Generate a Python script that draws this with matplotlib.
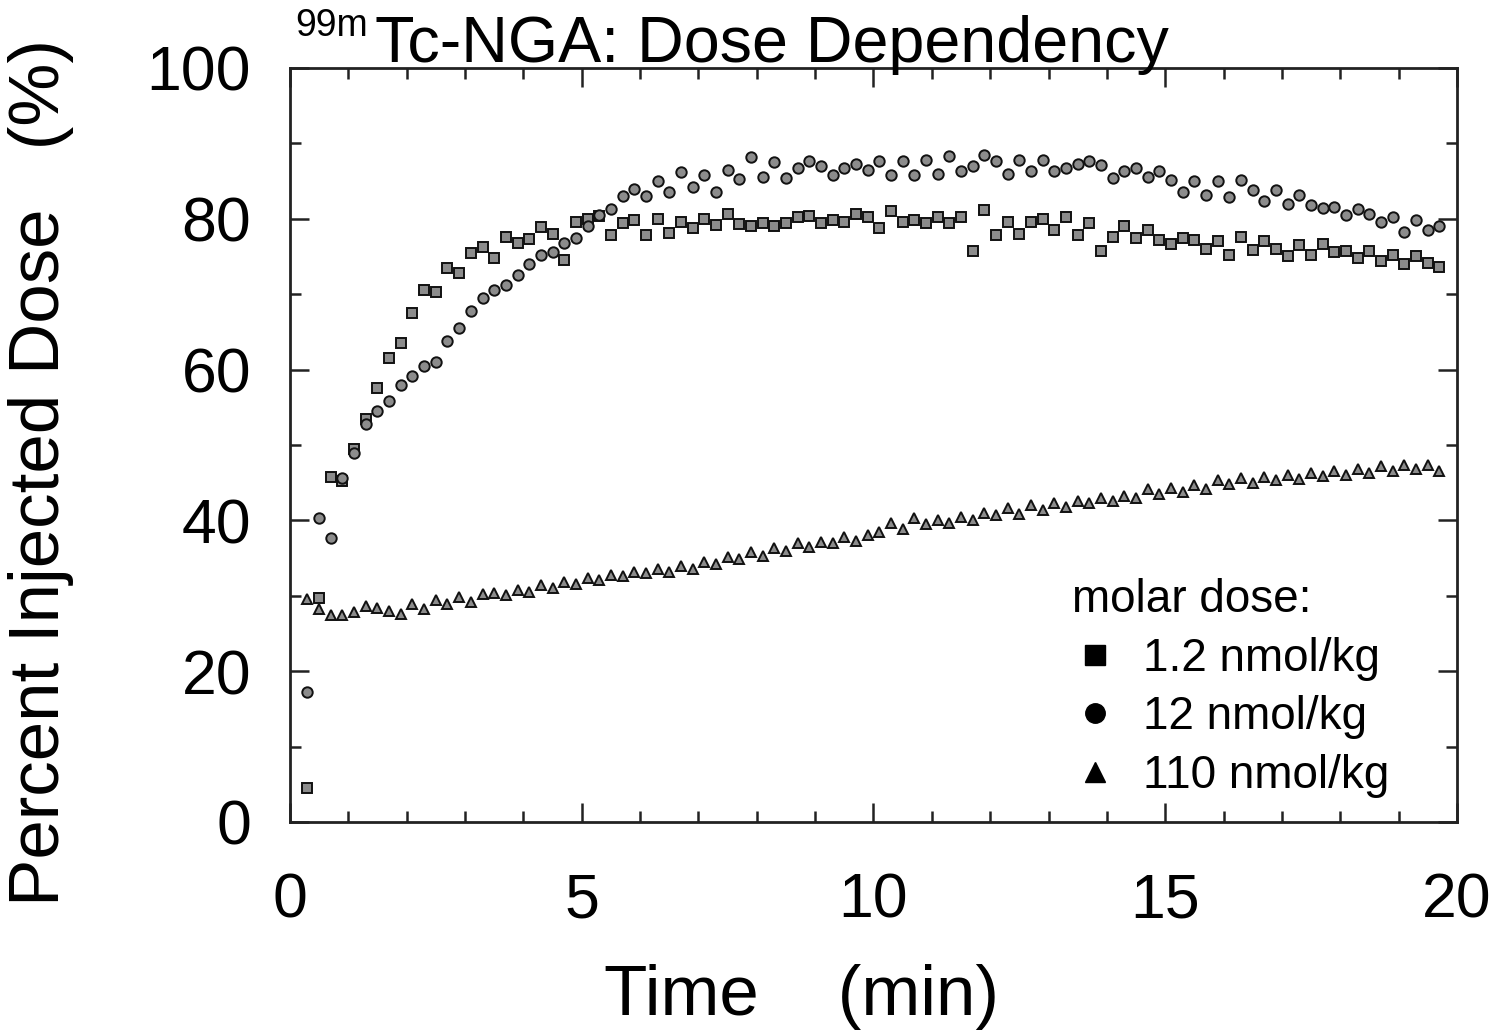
import numpy as np
import matplotlib
matplotlib.use("Agg")
from matplotlib import pyplot as plt
from matplotlib.lines import Line2D
from matplotlib.ticker import MultipleLocator

plt.rcParams['font.family'] = ['Liberation Sans', 'DejaVu Sans']

# sampling times (min)
time_min = [0.3, 0.5, 0.7, 0.9, 1.1, 1.3, 1.5, 1.7, 1.9, 2.1,
            2.3, 2.5, 2.7, 2.9, 3.1, 3.3, 3.5, 3.7, 3.9, 4.1,
            4.3, 4.5, 4.7, 4.9, 5.1, 5.3, 5.5, 5.7, 5.9, 6.1,
            6.3, 6.5, 6.7, 6.9, 7.1, 7.3, 7.5, 7.7, 7.9, 8.1,
            8.3, 8.5, 8.7, 8.9, 9.1, 9.3, 9.5, 9.7, 9.9, 10.1,
            10.3, 10.5, 10.7, 10.9, 11.1, 11.3, 11.5, 11.7, 11.9, 12.1,
            12.3, 12.5, 12.7, 12.9, 13.1, 13.3, 13.5, 13.7, 13.9, 14.1,
            14.3, 14.5, 14.7, 14.9, 15.1, 15.3, 15.5, 15.7, 15.9, 16.1,
            16.3, 16.5, 16.7, 16.9, 17.1, 17.3, 17.5, 17.7, 17.9, 18.1,
            18.3, 18.5, 18.7, 18.9, 19.1, 19.3, 19.5, 19.7]

# 1.2 nmol/kg (squares)
dose_1_2 = [4.5, 29.7, 45.8, 45.2, 49.5, 53.5, 57.5, 61.5, 63.5, 67.5,
            70.5, 70.3, 73.5, 72.8, 75.5, 76.2, 74.8, 77.6, 76.8, 77.3,
            78.9, 78.0, 74.5, 79.6, 80.0, 80.4, 77.8, 79.5, 79.8, 77.9,
            80.0, 78.1, 79.6, 78.8, 80.0, 79.2, 80.6, 79.3, 79.0, 79.4,
            79.1, 79.5, 80.3, 80.4, 79.5, 79.8, 79.6, 80.7, 80.3, 78.8,
            81.0, 79.6, 79.8, 79.5, 80.2, 79.5, 80.3, 75.7, 81.2, 77.8,
            79.6, 78.0, 79.6, 80.0, 78.5, 80.3, 77.8, 79.5, 75.7, 77.6,
            79.0, 77.4, 78.5, 77.2, 76.6, 77.5, 77.2, 76.0, 77.0, 75.2,
            77.6, 75.8, 77.0, 76.0, 75.0, 76.5, 75.2, 76.6, 75.6, 75.7,
            74.8, 75.7, 74.4, 75.2, 74.0, 75.0, 74.2, 73.6]

# 12 nmol/kg (circles)
dose_12 = [17.2, 40.3, 37.6, 45.6, 49.0, 52.8, 54.5, 55.8, 58.0, 59.2,
           60.5, 61.0, 63.8, 65.5, 67.8, 69.5, 70.5, 71.2, 72.6, 74.0,
           75.2, 75.6, 76.8, 77.5, 79.0, 80.5, 81.3, 83.0, 84.0, 83.0,
           85.0, 83.5, 86.2, 84.2, 85.8, 83.6, 86.5, 85.3, 88.2, 85.6,
           87.5, 85.4, 86.8, 87.6, 87.0, 85.8, 86.8, 87.3, 86.5, 87.6,
           85.8, 87.6, 85.8, 87.8, 85.9, 88.3, 86.3, 87.0, 88.4, 87.6,
           86.0, 87.8, 86.3, 87.8, 86.3, 86.7, 87.3, 87.6, 87.2, 85.4,
           86.3, 86.7, 85.5, 86.4, 85.2, 83.6, 85.0, 83.1, 85.0, 82.9,
           85.1, 83.8, 82.4, 83.8, 82.0, 83.1, 81.8, 81.4, 81.5, 80.5,
           81.3, 80.6, 79.6, 80.3, 78.3, 79.8, 78.5, 79.0]

# 110 nmol/kg (triangles)
dose_110 = [29.6, 28.2, 27.4, 27.5, 27.9, 28.6, 28.4, 28.0, 27.6, 28.9,
            28.3, 29.5, 28.9, 29.8, 29.2, 30.2, 30.4, 30.1, 30.8, 30.5,
            31.4, 31.0, 31.8, 31.6, 32.4, 32.1, 32.8, 32.6, 33.2, 33.0,
            33.5, 33.2, 34.0, 33.6, 34.5, 34.2, 35.2, 34.9, 35.8, 35.3,
            36.3, 36.0, 37.0, 36.5, 37.2, 37.0, 37.8, 37.3, 38.0, 38.5,
            39.6, 38.8, 40.3, 39.5, 40.0, 39.6, 40.4, 40.0, 41.0, 40.7,
            41.6, 40.9, 42.0, 41.4, 42.3, 41.8, 42.6, 42.3, 43.0, 42.6,
            43.3, 43.0, 44.2, 43.5, 44.3, 43.8, 44.7, 44.2, 45.4, 44.8,
            45.6, 44.9, 45.7, 45.4, 46.0, 45.5, 46.3, 45.9, 46.6, 46.0,
            46.8, 46.3, 47.2, 46.6, 47.3, 46.8, 47.4, 46.5]

labels = ['1.2 nmol/kg', '12 nmol/kg', '110 nmol/kg']
markers = ['s', 'o', '^']
series = [dose_1_2, dose_12, dose_110]

fig = plt.figure(figsize=(15, 10.35), dpi=100)
ax = fig.add_axes([0.1933, 0.2058, 0.778, 0.7285])

for vals, m in zip(series, markers):
    ax.plot(time_min, vals, linestyle='none', marker=m, ms=7.5,
            mfc='#8c8c8c', mec='#111111', mew=1.4)

ax.set_xlim(0, 20)
ax.set_ylim(0, 100)
ax.xaxis.set_major_locator(MultipleLocator(5))
ax.xaxis.set_minor_locator(MultipleLocator(1))
ax.yaxis.set_major_locator(MultipleLocator(20))
ax.yaxis.set_minor_locator(MultipleLocator(10))
ax.tick_params(which='both', direction='in', top=True, right=True,
               width=1.8, color='#222222')
ax.tick_params(which='major', length=14)
ax.tick_params(which='minor', length=8)
ax.tick_params(axis='x', which='major', labelsize=45, pad=36)
ax.tick_params(axis='y', which='major', labelsize=45, pad=28)
for s in ax.spines.values():
    s.set_linewidth(2)
    s.set_color('#222222')

# axis labels
fig.text(801 / 1500, 20 / 1035, 'Time    (min)', fontsize=51,
         ha='center', va='baseline')
fig.text(8 / 1500, (1035 - 472) / 1035, 'Percent Injected Dose   (%)',
         fontsize=51, rotation=90, ha='left', va='center')

# title
fig.text(295 / 1500, (1035 - 36) / 1035, '99m', fontsize=27, va='baseline')
fig.text(375 / 1500, (1035 - 62) / 1035, 'Tc-NGA: Dose Dependency',
         fontsize=46.5, va='baseline')

# legend
handles = [Line2D([], [], linestyle='none', marker=m, ms=14, color='black')
           for m in markers]
leg = ax.legend(handles, labels, title='molar dose:', loc='upper left',
                bbox_to_anchor=(1072 / 1500, (1035 - 578) / 1035),
                bbox_transform=fig.transFigure, frameon=False,
                fontsize=33, title_fontsize=33, alignment='left',
                handlelength=1.0, handletextpad=0.55, labelspacing=0.32,
                borderpad=0, borderaxespad=0)

fig.savefig('out.png', dpi=100)
